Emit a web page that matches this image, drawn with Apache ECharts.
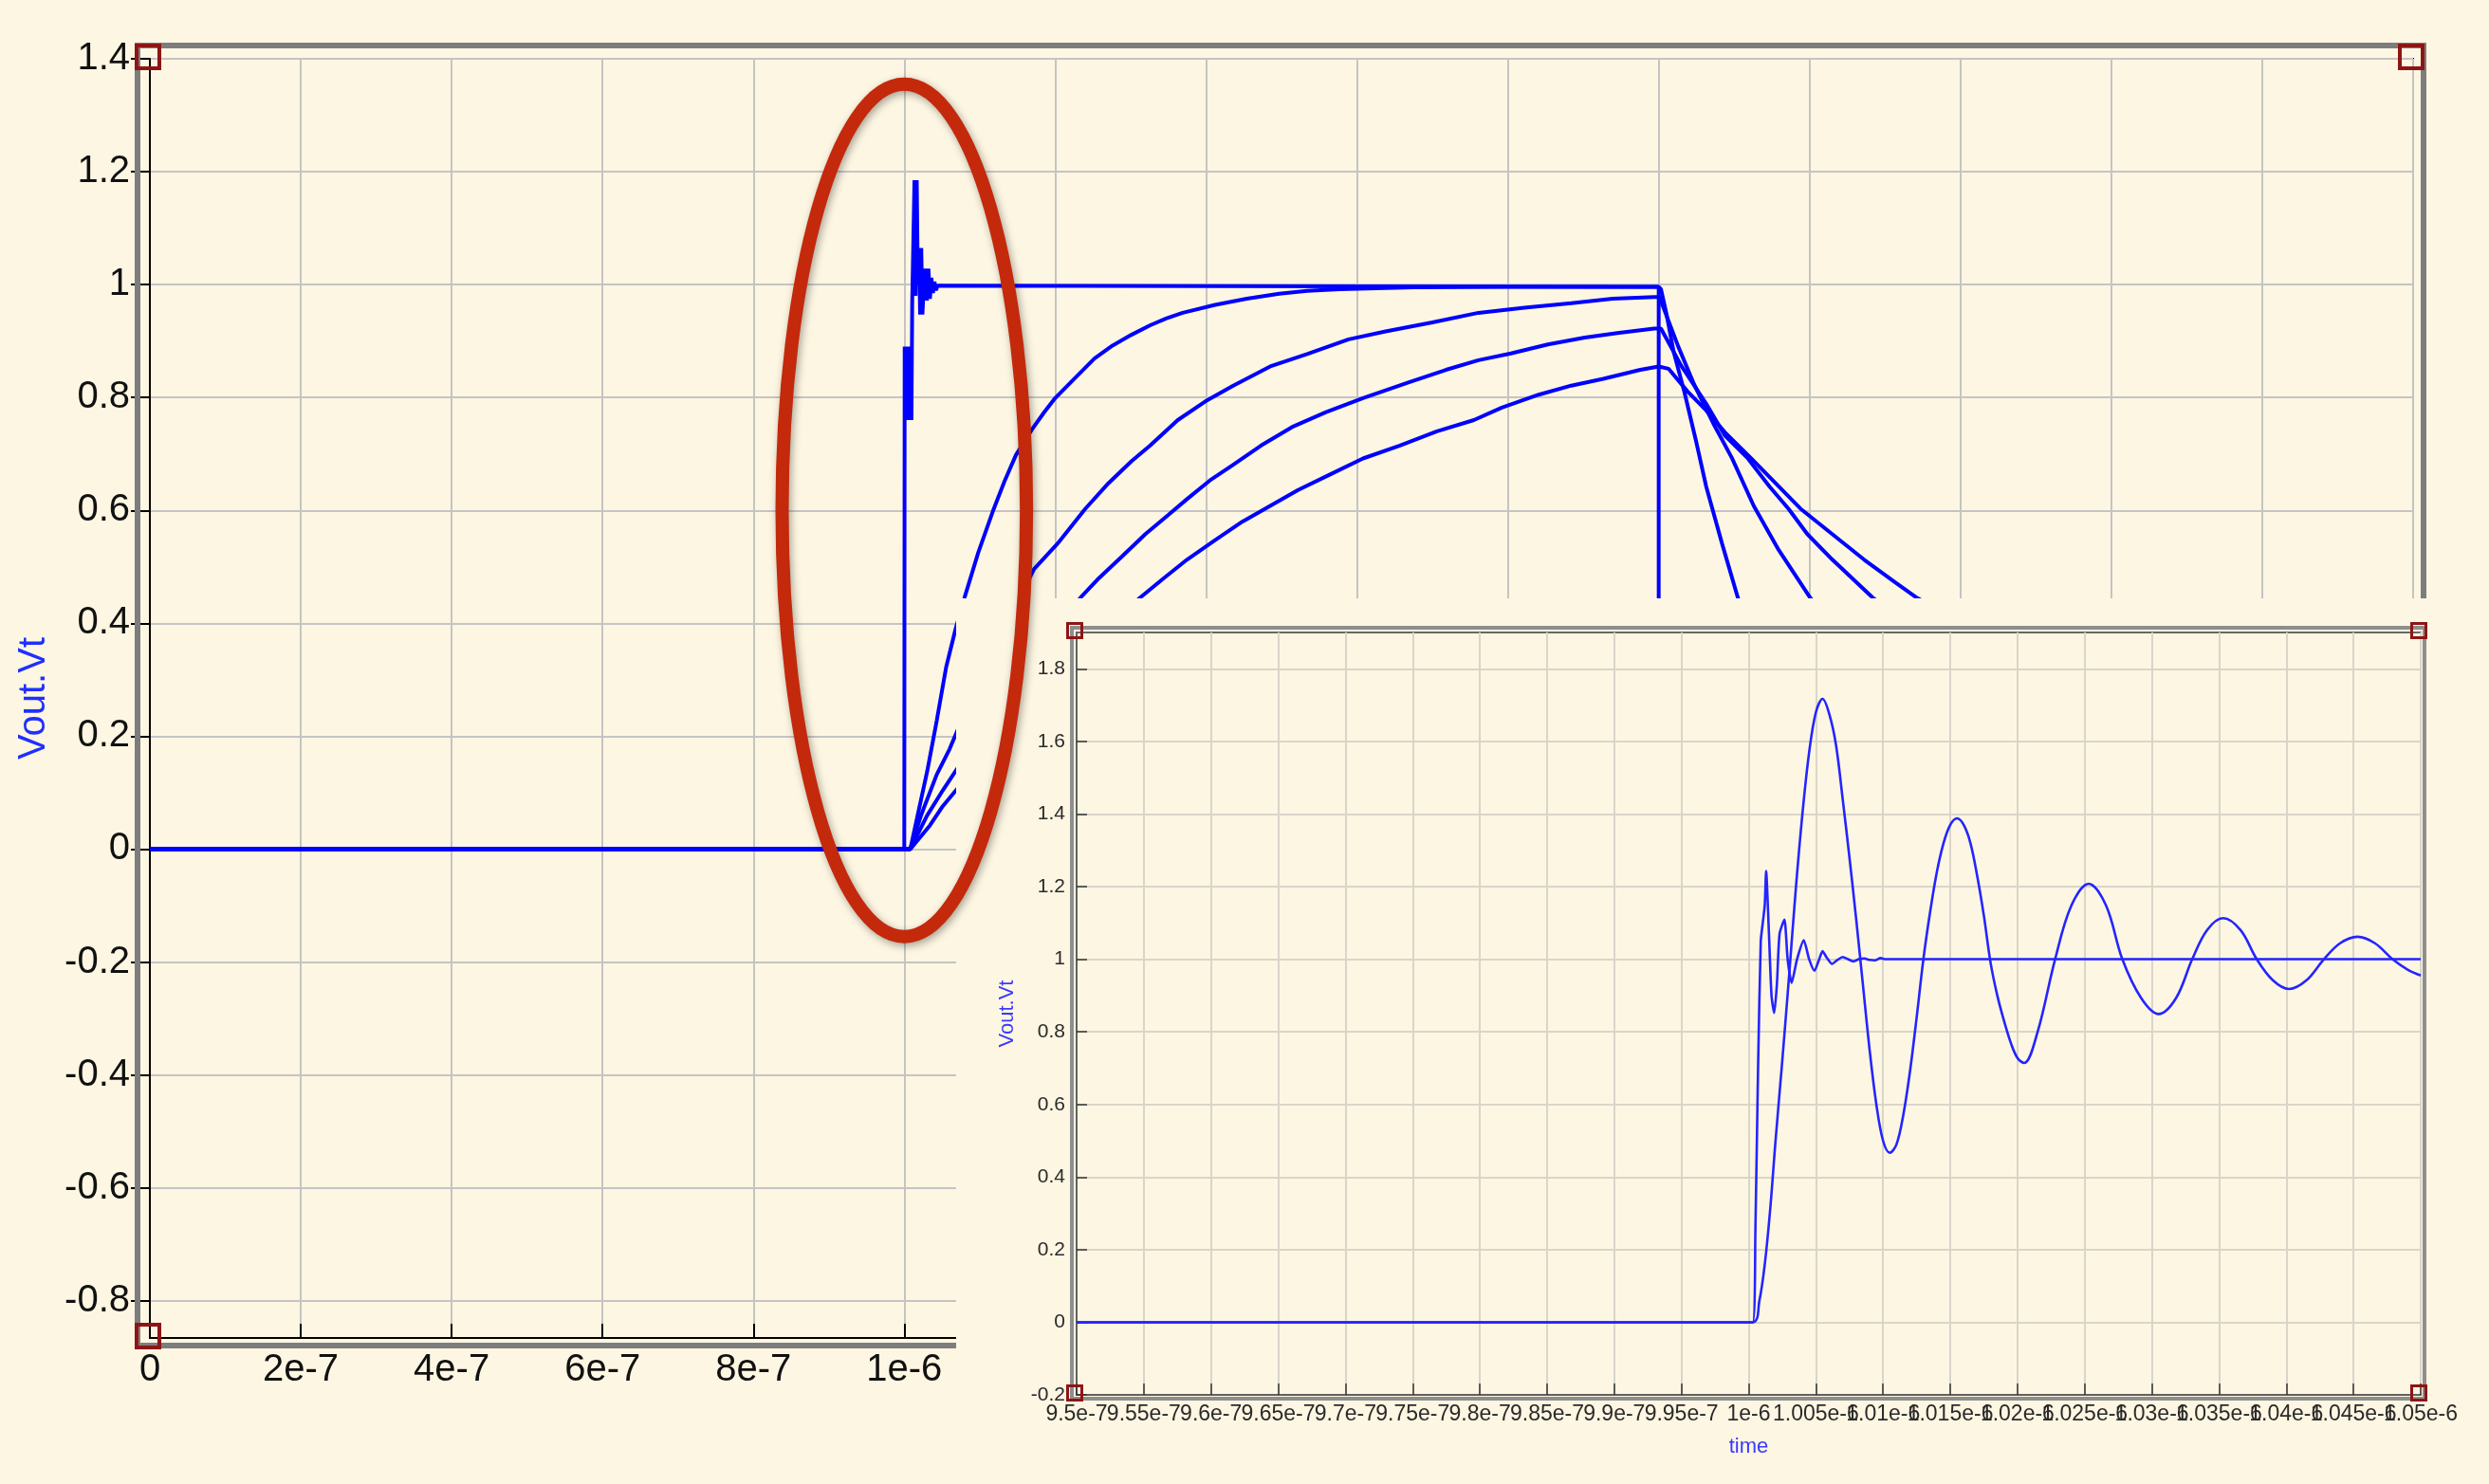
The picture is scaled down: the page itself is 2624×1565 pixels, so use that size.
<!DOCTYPE html>
<html>
<head>
<meta charset="utf-8">
<script src="https://cdn.jsdelivr.net/npm/echarts@6/dist/echarts.min.js"></script>
<style>
html,body{margin:0;padding:0;background:#FDF6E2;}
#c{width:2624px;height:1565px;}
</style>
</head>
<body>
<div id="c"></div>
<script>
// ---------------- DATA (time in microseconds, voltage in V) ----------------
const mainYTicks = [-0.8, -0.6, -0.4, -0.2, 0, 0.2, 0.4, 0.6, 0.8, 1, 1.2, 1.4];
const insetYTicks = [-0.2, 0, 0.2, 0.4, 0.6, 0.8, 1, 1.2, 1.4, 1.6, 1.8];
// inset time tick labels, split in two interleaved rows so none gets dropped
const insetXTicksEven = [0.95, 0.96, 0.97, 0.98, 0.99, 1.0, 1.01, 1.02, 1.03, 1.04, 1.05];
const insetXTicksOdd = [0.955, 0.965, 0.975, 0.985, 0.995, 1.005, 1.015, 1.025, 1.035, 1.045];

// main plot: ideal step with fast ringing
const mainStep = [
  [0,0],[1.0,0],[1.0005,0.89],[1.0015,0.76],[1.0025,0.89],[1.0035,0.76],[1.0045,0.89],
  [1.0055,0.76],[1.0065,0.89],[1.0075,0.76],[1.0085,0.89],[1.0095,0.76],[1.0105,0.97],
  [1.0125,0.97],[1.0135,1.185],[1.015,0.98],[1.0165,1.185],[1.018,1.0],[1.0195,1.065],
  [1.021,0.947],[1.0225,1.065],[1.024,0.947],[1.026,1.0],[1.028,1.028],[1.030,0.972],
  [1.032,1.028],[1.034,0.975],[1.036,1.012],[1.038,0.985],[1.040,1.005],[1.042,0.99],
  [1.044,0.998],[1.046,0.996],[2.0,0.996],[2.0,0],[3.0,0]
];
// main plot: RC-like responses
const mainRC1 = [
  [0,0],[1.0,0],[1.008,0],[1.0304,0.138],[1.043,0.2275],[1.0556,0.323],[1.068,0.39],[1.080,0.446],
  [1.098,0.525],[1.117,0.597],[1.133,0.652],[1.148,0.698],[1.169,0.743],[1.185,0.773],[1.2,0.799],
  [1.2245,0.832],[1.252,0.869],[1.276,0.892],[1.301,0.911],[1.326,0.928],[1.347,0.940],[1.369,0.950],
  [1.412,0.964],[1.454,0.975],[1.497,0.984],[1.534,0.989],[1.577,0.992],[1.675,0.995],[1.8,0.996],
  [2.0,0.996],[2.003,0.992],[2.01,0.95],[2.02,0.88],[2.034,0.81],[2.05,0.72],[2.063,0.642],
  [2.084,0.541],[2.105,0.445],[2.15,0.30],[2.2,0.19],[2.3,0.08],[2.4,0.035],[2.6,0.008],[3.0,0]
];
const mainRC2 = [
  [0,0],[1.0,0],[1.008,0],[1.022,0.059],[1.043,0.132],[1.060,0.177],[1.0703,0.21],[1.10,0.30],[1.14,0.41],
  [1.172,0.496],[1.203,0.541],[1.240,0.603],[1.2705,0.648],[1.301,0.687],[1.326,0.715],[1.3625,0.760],
  [1.399,0.793],[1.436,0.821],[1.485,0.855],[1.534,0.877],[1.589,0.903],[1.638,0.917],[1.700,0.933],
  [1.761,0.950],[1.822,0.959],[1.884,0.967],[1.939,0.975],[1.994,0.978],[2.001,0.978],[2.026,0.890],
  [2.047,0.823],[2.072,0.755],[2.097,0.693],[2.126,0.608],[2.159,0.530],[2.201,0.445],[2.3,0.30],
  [2.4,0.20],[2.5,0.135],[2.7,0.06],[3.0,0.02]
];
const mainRC3 = [
  [0,0],[1.0,0],[1.008,0],[1.030,0.059],[1.051,0.104],[1.0703,0.143],[1.10,0.21],[1.15,0.31],[1.2,0.39],
  [1.234,0.446],[1.258,0.480],[1.289,0.519],[1.3196,0.558],[1.350,0.592],[1.3747,0.620],[1.405,0.653],
  [1.436,0.681],[1.473,0.715],[1.516,0.749],[1.559,0.774],[1.608,0.799],[1.669,0.827],[1.718,0.849],
  [1.761,0.866],[1.804,0.878],[1.853,0.894],[1.902,0.906],[1.945,0.914],[1.994,0.922],[2.003,0.922],
  [2.03,0.856],[2.063,0.789],[2.088,0.732],[2.1175,0.693],[2.147,0.642],[2.172,0.603],[2.197,0.558],
  [2.23,0.513],[2.284,0.445],[2.4,0.33],[2.5,0.26],[2.7,0.16],[3.0,0.08]
];
const mainRC4 = [
  [0,0],[1.0,0],[1.008,0],[1.034,0.042],[1.051,0.076],[1.0703,0.107],[1.10,0.16],[1.15,0.24],[1.2,0.31],
  [1.25,0.37],[1.313,0.446],[1.344,0.480],[1.375,0.513],[1.4115,0.547],[1.448,0.580],[1.485,0.608],
  [1.522,0.636],[1.565,0.664],[1.608,0.692],[1.657,0.715],[1.706,0.740],[1.755,0.760],[1.792,0.782],
  [1.841,0.805],[1.884,0.821],[1.9265,0.833],[1.9756,0.849],[2.0,0.855],[2.013,0.851],[2.038,0.811],
  [2.063,0.777],[2.088,0.738],[2.122,0.693],[2.155,0.648],[2.188,0.603],[2.23,0.558],[2.272,0.513],
  [2.313,0.473],[2.3425,0.445],[2.4,0.40],[2.5,0.33],[2.7,0.22],[3.0,0.12]
];
// inset: zoom 0.95us .. 1.05us
const insetFast = [
  [0.95,0],[1.0003,0],[1.0005,0.25],[1.0007,0.70],[1.0009,1.05],[1.00105,1.10],[1.0012,1.15],
  [1.0013,1.243],[1.0015,1.08],[1.0017,0.90],[1.0019,0.852],[1.0021,0.93],[1.0023,1.07],[1.00266,1.109],
  [1.0029,1.0],[1.0032,0.935],[1.0036,1.0],[1.0041,1.052],[1.0045,1.0],[1.0049,0.968],[1.0052,0.995],
  [1.0055,1.022],[1.0058,1.005],[1.0062,0.987],[1.0066,0.998],[1.0070,1.006],[1.0074,1.0],[1.0078,0.994],
  [1.0082,1.0],[1.0086,1.002],[1.0090,0.998],[1.0094,0.997],[1.0098,1.003],[1.0102,1.0],[1.05,1.0]
];
const insetSlow = [
  [0.95,0],[1.0003,0],[1.0008,0.06],[1.0012,0.16],[1.0016,0.31],[1.0020,0.50],[1.0025,0.72],[1.0030,0.95],
  [1.0035,1.19],[1.0040,1.40],[1.0045,1.57],[1.0050,1.68],[1.0055,1.717],[1.0060,1.675],[1.0065,1.59],
  [1.0070,1.44],[1.0075,1.28],[1.0080,1.11],[1.0085,0.93],[1.0090,0.75],[1.0095,0.60],[1.0100,0.50],
  [1.0105,0.467],[1.0110,0.49],[1.0115,0.57],[1.0120,0.69],[1.0125,0.84],[1.0130,1.0],[1.0135,1.13],
  [1.0140,1.24],[1.0145,1.32],[1.0150,1.37],[1.0155,1.388],[1.0160,1.37],[1.0165,1.32],[1.0170,1.23],
  [1.0175,1.12],[1.0180,0.99],[1.0185,0.90],[1.0190,0.83],[1.0195,0.77],[1.0200,0.728],[1.0205,0.714],
  [1.0215,0.80],[1.0228,1.0],[1.0240,1.147],[1.0253,1.208],[1.0266,1.147],[1.0278,1.0],[1.0292,0.893],
  [1.0305,0.849],[1.0318,0.893],[1.0330,1.0],[1.0341,1.080],[1.0353,1.113],[1.0366,1.080],[1.0378,1.0],
  [1.0390,0.942],[1.0402,0.918],[1.0415,0.942],[1.0428,1.0],[1.0440,1.044],[1.0453,1.062],[1.0466,1.044],
  [1.0479,1.0],[1.0490,0.972],[1.0500,0.955]
];
// annotation ellipse (data units: us, V)
const ellipseCenter = [1.0, 0.6];
const ellipseRadii = [0.162, 0.755];

// ---------------- LAYOUT ----------------
const BG = '#FDF6E2';
const MAIN = {left:158, top:62, width:2386, height:1349};
const INSET = {left:1135, top:667, width:1417, height:804};
const PANEL = {x:1008, y:631};
const FONT = '"Liberation Sans", Arial, Helvetica, sans-serif';

function sci(x){
  if (Math.abs(x) < 1e-15) return '0';
  return Number(x.toPrecision(6)).toExponential().replace('e+','e');
}
const fmtUs = v => sci(v * 1e-6);

const chart = echarts.init(document.getElementById('c'), null, {renderer:'canvas'});

const mainLine = {color:'#0000FF', width:4};
const insetLine = {color:'#2424FF', width:2.6};

function mainSeries(data){
  return {type:'line', xAxisIndex:0, yAxisIndex:0, data:data, showSymbol:false, symbol:'none',
          lineStyle:mainLine, z:2, silent:true, animation:false};
}

const insetXLabel = (vals) => ({show:true, margin:9, fontSize:23, color:'#2a2a2a', fontFamily:FONT,
  formatter:fmtUs, hideOverlap:false, showMinLabel:true, showMaxLabel:true, customValues:vals});

const option = {
  backgroundColor: BG,
  animation: false,
  textStyle: {fontFamily: FONT},
  grid: [
    {left:MAIN.left, top:MAIN.top, width:MAIN.width, height:MAIN.height, show:true,
     borderColor:'#000', borderWidth:2, backgroundColor:'transparent', z:0,
     containLabel:false, outerBoundsMode:'none'},
    {left:INSET.left, top:INSET.top, width:INSET.width, height:INSET.height, show:true,
     borderColor:'#3a3a3a', borderWidth:1.5, backgroundColor:'transparent', z:11,
     containLabel:false, outerBoundsMode:'none'}
  ],
  xAxis: [
    {gridIndex:0, type:'value', min:0, max:3, interval:0.2, z:1,
     axisLine:{show:true, onZero:false, lineStyle:{color:'#000', width:2}},
     axisTick:{show:true, inside:true, length:15, lineStyle:{color:'#000', width:2}},
     axisLabel:{show:true, margin:14, fontSize:40, color:'#111', fontFamily:FONT,
                formatter:fmtUs, hideOverlap:false, showMinLabel:true, showMaxLabel:true},
     splitLine:{show:true, lineStyle:{color:'#c4c4c4', width:2}}},
    {gridIndex:1, type:'value', min:0.95, max:1.05, interval:0.005, z:12, position:'bottom',
     name:'time', nameLocation:'middle', nameGap:44, nameMoveOverlap:false,
     nameTextStyle:{color:'#3a3aff', fontSize:22, fontFamily:FONT},
     axisLine:{show:true, onZero:false, lineStyle:{color:'#3a3a3a', width:1.5}},
     axisTick:{show:true, inside:true, length:12, lineStyle:{color:'#333', width:1.5}},
     axisLabel:insetXLabel(insetXTicksEven),
     splitLine:{show:true, lineStyle:{color:'#d9d5c9', width:2}}},
    {gridIndex:1, type:'value', min:0.95, max:1.05, interval:0.005, z:12, position:'bottom',
     axisLine:{show:false, onZero:false}, axisTick:{show:false}, splitLine:{show:false},
     axisLabel:insetXLabel(insetXTicksOdd)}
  ],
  yAxis: [
    {gridIndex:0, type:'value', min:-0.866, max:1.4, z:1,
     name:'Vout.Vt', nameLocation:'middle', nameRotate:90, nameGap:102, nameMoveOverlap:false,
     nameTextStyle:{color:'#1f2fff', fontSize:40, fontFamily:FONT},
     axisLine:{show:true, onZero:false, lineStyle:{color:'#000', width:2}},
     axisTick:{show:true, inside:false, length:20, customValues:mainYTicks, lineStyle:{color:'#000', width:2}},
     axisLabel:{show:true, margin:21, fontSize:40, color:'#111', fontFamily:FONT,
                customValues:mainYTicks, hideOverlap:false},
     splitLine:{show:true, customValues:mainYTicks, lineStyle:{color:'#c4c4c4', width:2}}},
    {gridIndex:1, type:'value', min:-0.2, max:1.9, z:12,
     name:'Vout.Vt', nameLocation:'middle', nameRotate:90, nameGap:62, nameMoveOverlap:false,
     nameTextStyle:{color:'#3a3aff', fontSize:22, fontFamily:FONT},
     axisLine:{show:true, onZero:false, lineStyle:{color:'#3a3a3a', width:1.5}},
     axisTick:{show:true, inside:true, length:11, customValues:insetYTicks, lineStyle:{color:'#333', width:1.5}},
     axisLabel:{show:true, margin:12, fontSize:21, color:'#2a2a2a', fontFamily:FONT,
                customValues:insetYTicks, hideOverlap:false},
     splitLine:{show:true, customValues:insetYTicks, lineStyle:{color:'#d9d5c9', width:2}}}
  ],
  series: [
    mainSeries(mainStep), mainSeries(mainRC1), mainSeries(mainRC2), mainSeries(mainRC3), mainSeries(mainRC4),
    {type:'line', xAxisIndex:1, yAxisIndex:1, data:insetSlow, showSymbol:false, symbol:'none',
     smooth:0.35, lineStyle:insetLine, z:13, silent:true},
    {type:'line', xAxisIndex:1, yAxisIndex:1, data:insetFast, showSymbol:false, symbol:'none',
     smooth:0.2, lineStyle:insetLine, z:13, silent:true}
  ]
};
chart.setOption(option);

// ---------------- decorations ----------------
const c0 = chart.convertToPixel({gridIndex:0}, ellipseCenter);
const c1 = chart.convertToPixel({gridIndex:0}, [ellipseCenter[0] + ellipseRadii[0], ellipseCenter[1] + ellipseRadii[1]]);
const rx = c1[0] - c0[0], ry = c0[1] - c1[1];

function cornerSquares(g, size, lw, z){
  const pts = [[g.left, g.top],[g.left+g.width, g.top],[g.left, g.top+g.height],[g.left+g.width, g.top+g.height]];
  return pts.map(p => ({
    type:'rect', z:z, silent:true,
    shape:{x:p[0]-size/2-2, y:p[1]-size/2-2, width:size, height:size},
    style:{fill:'none', stroke:'#8E1515', lineWidth:lw}
  }));
}

const graphics = [
  {type:'rect', z:3, silent:true,
   shape:{x:MAIN.left-13, y:MAIN.top-14, width:MAIN.width+24, height:MAIN.height+22},
   style:{fill:'none', stroke:'#7d7d7d', lineWidth:6}},
  ...cornerSquares(MAIN, 24, 4, 4),
  {type:'rect', z:10, silent:true,
   shape:{x:PANEL.x, y:PANEL.y, width:2624-PANEL.x, height:1565-PANEL.y},
   style:{fill:BG}},
  {type:'rect', z:12, silent:true,
   shape:{x:INSET.left-5, y:INSET.top-5, width:INSET.width+9, height:INSET.height+9},
   style:{fill:'none', stroke:'#8e8e8e', lineWidth:4}},
  ...cornerSquares(INSET, 15, 3, 14),
  {type:'ellipse', z:20, silent:true,
   shape:{cx:c0[0], cy:c0[1], rx:rx, ry:ry},
   style:{fill:'none', stroke:'#C4290C', lineWidth:14,
          shadowBlur:8, shadowColor:'rgba(0,0,0,0.35)', shadowOffsetX:2, shadowOffsetY:3}}
];
chart.setOption({graphic: graphics});
</script>
</body>
</html>
